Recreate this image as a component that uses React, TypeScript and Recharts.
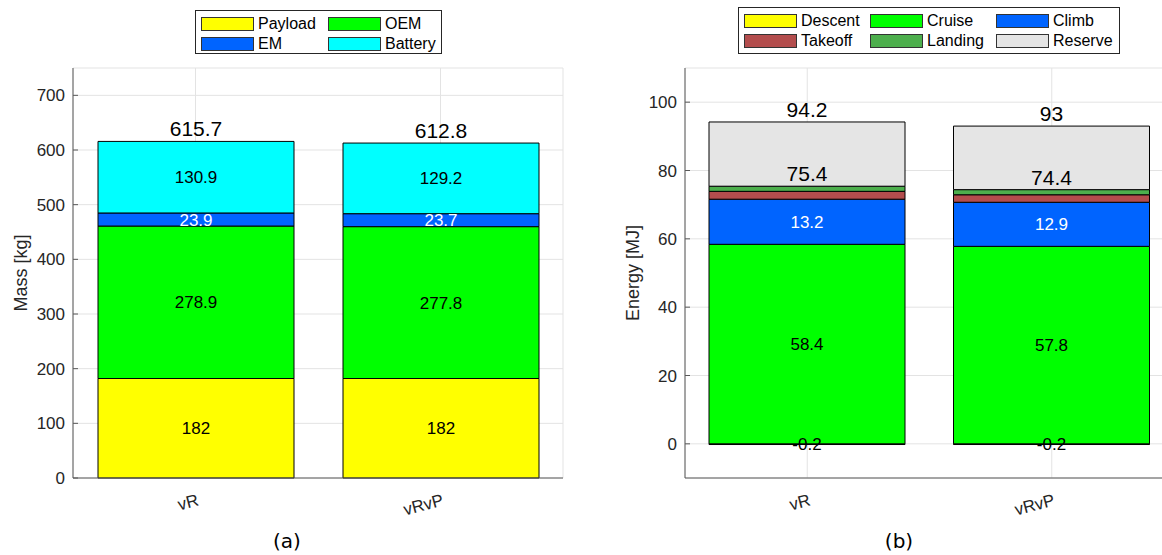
import React from "react"
import { Bar, BarChart, CartesianGrid, LabelList, XAxis, YAxis } from "recharts"

const categories = ["vR", "vRvP"]

// (a) mass breakdown [kg]
const payloadMass = [182, 182]
const oemMass = [278.9, 277.8]
const emMass = [23.9, 23.7]
const batteryMass = [130.9, 129.2]
const totalMass = [615.7, 612.8]
const massTicks = [0, 100, 200, 300, 400, 500, 600, 700]

// (b) energy breakdown [MJ]
const descentEnergy = [-0.2, -0.2]
const cruiseEnergy = [58.4, 57.8]
const climbEnergy = [13.2, 12.9]
const takeoffEnergy = [2.3, 2.2]
const landingEnergy = [1.5, 1.5]
const reserveEnergy = [18.8, 18.6]
const missionEnergy = [75.4, 74.4]
const totalEnergy = [94.2, 93]
const energyTicks = [0, 20, 40, 60, 80, 100]

const FONT = "'Liberation Sans', Arial, Helvetica, sans-serif"
const AXIS = "#595959"
const TEXT = "#262626"
const GRID = "#e3e3e3"

interface Series {
    key: string
    name: string
    color: string
    values: number[]
    label?: string // colour of the in-segment value, none if absent
}

const massSeries: Series[] = [
    { key: "payload", name: "Payload", color: "#ffff00", values: payloadMass, label: "#000" },
    { key: "oem", name: "OEM", color: "#00ff00", values: oemMass, label: "#000" },
    { key: "em", name: "EM", color: "#0064ff", values: emMass, label: "#fff" },
    { key: "battery", name: "Battery", color: "#00ffff", values: batteryMass, label: "#000" },
]

const energySeries: Series[] = [
    { key: "descent", name: "Descent", color: "#ffff00", values: descentEnergy, label: "#000" },
    { key: "cruise", name: "Cruise", color: "#00ff00", values: cruiseEnergy, label: "#000" },
    { key: "climb", name: "Climb", color: "#0064ff", values: climbEnergy, label: "#fff" },
    { key: "takeoff", name: "Takeoff", color: "#b34d4d", values: takeoffEnergy },
    { key: "landing", name: "Landing", color: "#4daf4d", values: landingEnergy },
    { key: "reserve", name: "Reserve", color: "#e5e5e5", values: reserveEnergy },
]

function buildRows(series: Series[], extra: Record<string, number[]>) {
    return categories.map((name, i) => {
        const row: any = { name }
        series.forEach((s) => (row[s.key] = s.values[i]))
        Object.keys(extra).forEach((k) => (row[k] = extra[k][i]))
        return row
    })
}

const massRows = buildRows(massSeries, { total: totalMass })
const energyRows = buildRows(energySeries, { mission: missionEnergy, total: totalEnergy })

function SlantTick({ x, y, payload }: any) {
    const tx = x + 4
    const ty = y + 25
    return (
        <text
            x={tx}
            y={ty}
            textAnchor="end"
            transform={`rotate(-15, ${tx}, ${ty})`}
            fill={TEXT}
            fontSize={17}
            fontFamily={FONT}
        >
            {payload.value}
        </text>
    )
}

function Legend({ series, left, top, width, height, cols, colW }: any) {
    return (
        <div
            style={{
                position: "absolute",
                left,
                top,
                width,
                height,
                border: "1px solid #262626",
                background: "#fff",
                boxSizing: "border-box",
            }}
        >
            {series.map((s: Series, i: number) => (
                <div
                    key={s.key}
                    style={{
                        position: "absolute",
                        left: 5 + (i % cols) * colW,
                        top: 4 + Math.floor(i / cols) * 20,
                        display: "flex",
                        alignItems: "center",
                        fontFamily: FONT,
                        fontSize: 16,
                        color: "#000",
                        lineHeight: "18px",
                        whiteSpace: "nowrap",
                    }}
                >
                    <span
                        style={{
                            width: 53,
                            height: 14,
                            background: s.color,
                            border: "1px solid #333",
                            boxSizing: "border-box",
                            marginRight: 4,
                        }}
                    />
                    {s.name}
                </div>
            ))}
        </div>
    )
}

function StackedPanel({ rows, series, ticks, domain, yLabel, yWidth, width, right, labelDx, tops }: any) {
    return (
        <BarChart
            width={width}
            height={555}
            data={rows}
            margin={{ top: 68, right, bottom: 47, left: 0 }}
            stackOffset="sign"
            barSize={196}
        >
            <CartesianGrid stroke={GRID} />
            <XAxis
                dataKey="name"
                height={30}
                axisLine={{ stroke: AXIS }}
                tickLine={false}
                tickSize={0}
                tick={<SlantTick />}
            />
            <XAxis xAxisId="top" dataKey="name" orientation="top" height={0} tick={false} tickLine={false} axisLine={{ stroke: AXIS }} />
            <YAxis
                type="number"
                domain={domain}
                ticks={ticks}
                width={yWidth}
                axisLine={{ stroke: AXIS }}
                tickLine={{ stroke: AXIS }}
                tickSize={-5}
                tickMargin={13}
                tick={{ fill: TEXT, fontSize: 17, fontFamily: FONT }}
                label={{
                    value: yLabel,
                    angle: -90,
                    position: "center",
                    dx: labelDx,
                    fill: TEXT,
                    fontSize: 18,
                    fontFamily: FONT,
                }}
            />
            <YAxis
                yAxisId="right"
                orientation="right"
                type="number"
                domain={domain}
                ticks={ticks}
                width={0}
                tick={false}
                tickSize={-5}
                axisLine={{ stroke: AXIS }}
                tickLine={{ stroke: AXIS }}
            />
            {series.map((s: Series) => (
                <Bar
                    key={s.key}
                    dataKey={s.key}
                    name={s.name}
                    stackId="a"
                    fill={s.color}
                    stroke="#000"
                    strokeWidth={1}
                    isAnimationActive={false}
                >
                    {s.label && (
                        <LabelList dataKey={s.key} position="center" fill={s.label} fontSize={17} fontFamily={FONT} />
                    )}
                    {tops
                        .filter((t: any) => t.on === s.key)
                        .map((t: any) => (
                            <LabelList
                                key={t.dataKey}
                                dataKey={t.dataKey}
                                position="top"
                                offset={5}
                                fill="#000"
                                fontSize={21}
                                fontFamily={FONT}
                            />
                        ))}
                </Bar>
            ))}
        </BarChart>
    )
}

export default function App() {
    return (
        <div
            style={{
                position: "absolute",
                left: 0,
                top: 0,
                width: 1162,
                height: 555,
                overflow: "hidden",
                background: "#fff",
            }}
        >
            <div style={{ position: "absolute", left: 0, top: 0 }}>
                <StackedPanel
                    rows={massRows}
                    series={massSeries}
                    ticks={massTicks}
                    domain={[0, 750]}
                    yLabel="Mass [kg]"
                    yWidth={73}
                    width={600}
                    right={37}
                    labelDx={-16}
                    tops={[{ on: "battery", dataKey: "total" }]}
                />
            </div>
            <div style={{ position: "absolute", left: 580, top: 0 }}>
                <StackedPanel
                    rows={energyRows}
                    series={energySeries}
                    ticks={energyTicks}
                    domain={[-10, 110]}
                    yLabel="Energy [MJ]"
                    yWidth={105}
                    width={620}
                    right={26}
                    labelDx={0}
                    tops={[
                        { on: "landing", dataKey: "mission" },
                        { on: "reserve", dataKey: "total" },
                    ]}
                />
            </div>
            <Legend series={massSeries} left={195} top={10} width={247} height={44} cols={2} colW={127} />
            <Legend series={energySeries} left={738} top={7} width={382} height={47} cols={3} colW={126} />
            <div
                style={{
                    position: "absolute",
                    left: 247,
                    width: 80,
                    top: 529,
                    textAlign: "center",
                    fontFamily: "'DejaVu Sans', sans-serif",
                    fontSize: 20,
                    color: "#000",
                }}
            >
                (a)
            </div>
            <div
                style={{
                    position: "absolute",
                    left: 859,
                    width: 80,
                    top: 529,
                    textAlign: "center",
                    fontFamily: "'DejaVu Sans', sans-serif",
                    fontSize: 20,
                    color: "#000",
                }}
            >
                (b)
            </div>
        </div>
    )
}
